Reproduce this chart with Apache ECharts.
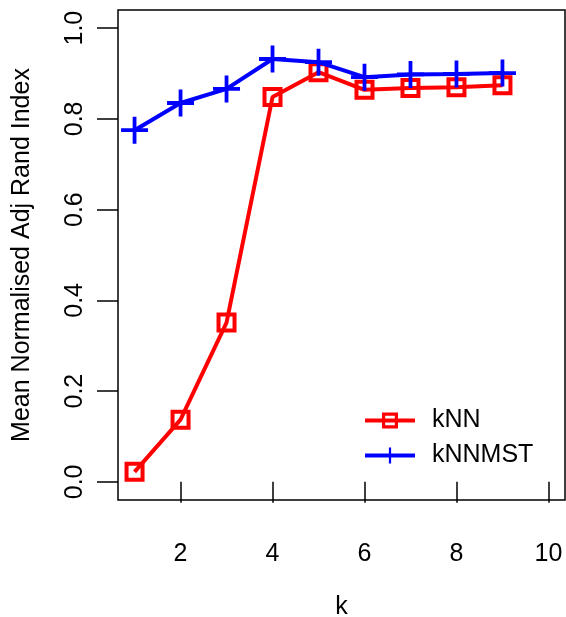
<!DOCTYPE html>
<html><head><meta charset="utf-8">
<script src="https://cdn.jsdelivr.net/npm/echarts@6/dist/echarts.min.js"></script>
<style>html,body{margin:0;padding:0;background:#fff}#c{width:566px;height:617px}</style>
</head><body><div id="c"></div>
<script>
var kValues = [1,2,3,4,5,6,7,8,9];
var knn = [0.022,0.137,0.351,0.848,0.903,0.864,0.868,0.870,0.874];
var knnmst = [0.775,0.835,0.866,0.932,0.925,0.892,0.898,0.899,0.901];
var xTicks = [2,4,6,8,10];
var yTicks = [0,0.2,0.4,0.6,0.8,1.0];
var seriesNames = ['kNN','kNNMST'];

var FONT = "'Liberation Sans', Arial, Helvetica, sans-serif";
var FS = 25;
var squarePath = 'path://M-1,-1 L1,-1 L1,1 L-1,1 Z M-0.6,-0.6 L-0.6,0.6 L0.6,0.6 L0.6,-0.6 Z';
var plusPath = 'path://M-0.14,-1 L0.14,-1 L0.14,-0.14 L1,-0.14 L1,0.14 L0.14,0.14 L0.14,1 L-0.14,1 L-0.14,0.14 L-1,0.14 L-1,-0.14 L-0.14,-0.14 Z';

function pairs(xs, ys){ return xs.map(function(x,i){return [x, ys[i]];}); }

var chart = echarts.init(document.getElementById('c'), null, {renderer:'canvas'});
chart.setOption({
  animation:false,
  textStyle:{fontFamily:FONT},
  grid:{left:118, right:1, top:10, bottom:117, show:true, borderColor:'#000', borderWidth:1.5,
        backgroundColor:'transparent', containLabel:false, outerBoundsMode:'none'},
  legend:{
    orient:'vertical', left:358, top:403, itemWidth:50, itemHeight:20, itemGap:10,
    textStyle:{fontFamily:FONT, fontSize:FS, color:'#000', padding:[0,0,0,12]},
    lineStyle:{width:4},
    data:seriesNames
  },
  xAxis:{
    type:'value', min:0.64, max:10.36,
    name:'k', nameLocation:'middle', nameGap:95,
    nameTextStyle:{fontFamily:FONT, fontSize:FS, color:'#000'},
    axisLine:{show:false},
    splitLine:{show:false},
    axisTick:{show:true, length:21, inside:false, customValues:xTicks, lineStyle:{color:'#000', width:1.5}},
    axisLabel:{customValues:xTicks, margin:42, fontFamily:FONT, fontSize:FS, color:'#000', showMinLabel:true, showMaxLabel:true}
  },
  yAxis:{
    type:'value', min:-0.04, max:1.04,
    name:'Mean Normalised Adj Rand Index', nameLocation:'middle', nameGap:83,
    nameTextStyle:{fontFamily:FONT, fontSize:FS, color:'#000'},
    axisLine:{show:false},
    splitLine:{show:false},
    axisTick:{show:true, length:21, customValues:yTicks, lineStyle:{color:'#000', width:1.5}},
    axisLabel:{customValues:yTicks, rotate:90, margin:30, fontFamily:FONT, fontSize:FS, color:'#000',
      formatter:function(v){return v.toFixed(1);}}
  },
  series:[
    {name:seriesNames[0], type:'line', data:pairs(kValues, knn),
     symbol:squarePath, symbolSize:20, showAllSymbol:true,
     itemStyle:{color:'#ff0000'}, lineStyle:{color:'#ff0000', width:4}, z:2},
    {name:seriesNames[1], type:'line', data:pairs(kValues, knnmst),
     symbol:plusPath, symbolSize:27, showAllSymbol:true,
     itemStyle:{color:'#0000ff'}, lineStyle:{color:'#0000ff', width:4}, z:3}
  ]
});
</script></body></html>
